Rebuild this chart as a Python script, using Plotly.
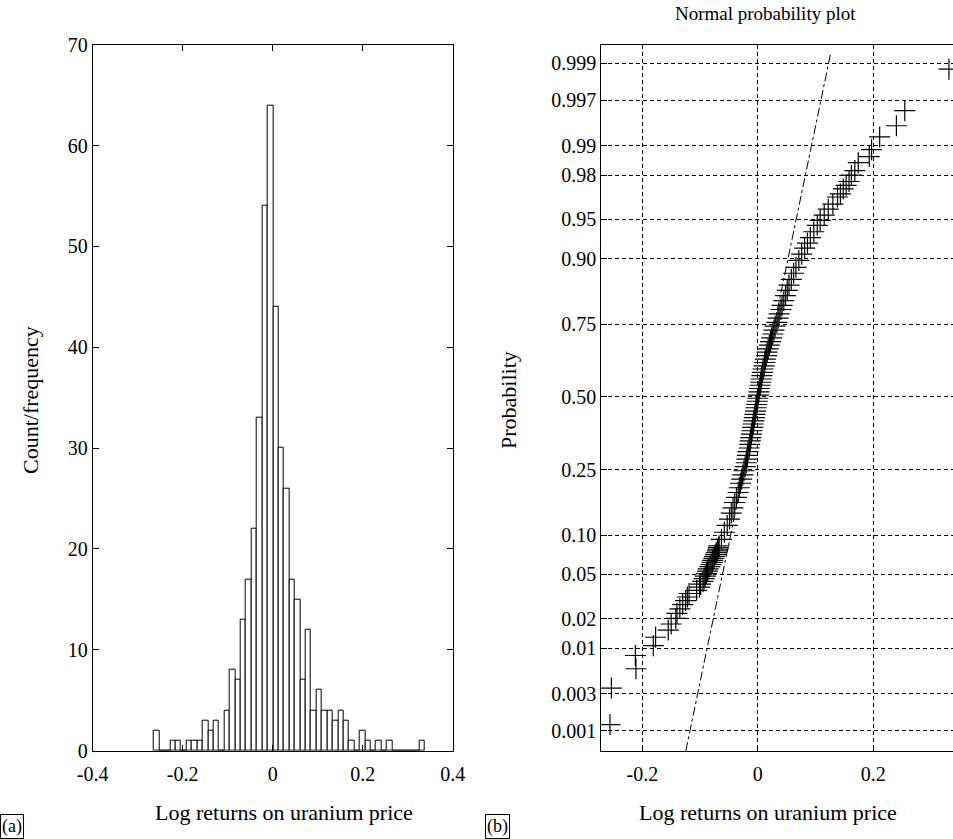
import plotly.graph_objects as go
from statistics import NormalDist
import numpy as np

# ---------------- data: histogram (panel a) ----------------
hist_start = -0.2637
hist_end = 0.3383
hist_counts = [2, 0, 0, 1, 1, 0, 1, 1, 1, 3,
               2, 3, 0, 4, 8, 7, 13, 17, 22, 33,
               54, 64, 44, 30, 26, 17, 15, 7, 12, 4,
               6, 4, 4, 3, 4, 3, 1, 0, 2, 1,
               0, 1, 0, 1, 0, 0, 0, 0, 0, 1]
hist_xticks = [-0.4, -0.2, 0, 0.2, 0.4]
hist_xlabels = ["-0.4", "-0.2", "0", "0.2", "0.4"]

# ---------------- data: normal probability plot (panel b) ----------------
npp_prob = [0.0012, 0.0035, 0.0059, 0.0083, 0.0106, 0.0130, 0.0154, 0.0177, 0.0201, 0.0225,
            0.0248, 0.0272, 0.0296, 0.0319, 0.0343, 0.0366, 0.0390, 0.0414, 0.0437, 0.0461,
            0.0485, 0.0508, 0.0532, 0.0556, 0.0579, 0.0603, 0.0626, 0.0650, 0.0674, 0.0697,
            0.0721, 0.0745, 0.0768, 0.0792, 0.0816,
            0.084, 0.0934, 0.105, 0.117, 0.129, 0.141, 0.152, 0.164, 0.176, 0.188,
            0.200, 0.212, 0.223, 0.235, 0.247, 0.259, 0.271, 0.282, 0.294, 0.306,
            0.318, 0.330, 0.342, 0.353, 0.365, 0.377, 0.389, 0.401, 0.412, 0.424,
            0.436, 0.448, 0.460, 0.472, 0.484, 0.495, 0.507, 0.519, 0.531, 0.543,
            0.554, 0.566, 0.578, 0.590, 0.602, 0.613, 0.625, 0.637, 0.649, 0.661,
            0.672, 0.684, 0.696, 0.708, 0.720, 0.732, 0.744, 0.755, 0.767, 0.779,
            0.791, 0.802, 0.814, 0.826, 0.838, 0.850, 0.862, 0.874, 0.885, 0.897,
            0.907, 0.916, 0.923, 0.930, 0.937, 0.944, 0.949, 0.954, 0.959, 0.963,
            0.968, 0.970, 0.973, 0.975, 0.977, 0.980, 0.982, 0.985, 0.987, 0.989,
            0.992, 0.994, 0.996, 0.9988]
npp_x = [-0.256, -0.2535, -0.211, -0.212, -0.181, -0.177, -0.155, -0.150, -0.142, -0.140,
         -0.135, -0.130, -0.125, -0.122, -0.119, -0.106, -0.101, -0.099, -0.095, -0.093,
         -0.091, -0.089, -0.087, -0.086, -0.083, -0.081, -0.079, -0.078, -0.076, -0.075,
         -0.073, -0.072, -0.070, -0.069, -0.068,
         -0.067, -0.063, -0.058, -0.053, -0.049, -0.046, -0.043, -0.040, -0.037, -0.034,
         -0.032, -0.030, -0.028, -0.026, -0.024, -0.022, -0.020, -0.019, -0.018, -0.017,
         -0.015, -0.014, -0.013, -0.012, -0.011, -0.010, -0.009, -0.008, -0.007, -0.006,
         -0.005, -0.004, -0.003, -0.002, -0.001, 0.000, 0.001, 0.002, 0.003, 0.004,
         0.005, 0.006, 0.007, 0.008, 0.009, 0.011, 0.012, 0.013, 0.015, 0.016,
         0.018, 0.020, 0.022, 0.024, 0.026, 0.028, 0.030, 0.033, 0.035, 0.037,
         0.040, 0.042, 0.045, 0.048, 0.051, 0.054, 0.058, 0.062, 0.066, 0.071,
         0.076, 0.081, 0.086, 0.091, 0.097, 0.103, 0.108, 0.115, 0.122, 0.130,
         0.138, 0.143, 0.148, 0.153, 0.158, 0.162, 0.168, 0.174, 0.193, 0.197,
         0.211, 0.240, 0.2545, 0.331]
fit_x = [-0.1247, 0.126]
fit_prob = [0.00052, 0.99926]
prob_ticks = [0.001, 0.003, 0.01, 0.02, 0.05, 0.10, 0.25, 0.50, 0.75,
              0.90, 0.95, 0.98, 0.99, 0.997, 0.999]
prob_labels = ["0.001", "0.003", "0.01", "0.02", "0.05", "0.10", "0.25", "0.50", "0.75",
               "0.90", "0.95", "0.98", "0.99", "0.997", "0.999"]
npp_xticks = [-0.2, 0, 0.2]
npp_xlabels = ["-0.2", "0", "0.2"]

# ---------------- figure ----------------
W, H = 953, 839
nd = NormalDist()
FONT = "Liberation Serif, Times New Roman, serif"

edges = np.linspace(hist_start, hist_end, len(hist_counts) + 1)
centers = (edges[:-1] + edges[1:]) / 2
bw = edges[1] - edges[0]

fig = go.Figure()
fig.add_trace(go.Bar(x=centers, y=hist_counts, width=bw,
                     marker=dict(color="white", line=dict(color="black", width=1)),
                     xaxis="x", yaxis="y", showlegend=False))

fig.add_trace(go.Scatter(x=fit_x, y=[nd.inv_cdf(p) for p in fit_prob], mode="lines",
                         line=dict(color="black", width=1, dash="dashdot"),
                         xaxis="x2", yaxis="y2", showlegend=False))
fig.add_trace(go.Scatter(x=npp_x, y=[nd.inv_cdf(p) for p in npp_prob], mode="markers",
                         marker=dict(symbol="cross-thin", size=15,
                                     line=dict(color="black", width=1.2)),
                         xaxis="x2", yaxis="y2", showlegend=False))


def px_x(v):
    return v / W


def px_y(v):
    return 1 - v / H


axis_common = dict(showline=True, linecolor="black", linewidth=1, ticks="inside",
                   tickcolor="black", ticklen=6, zeroline=False, automargin=False,
                   tickfont=dict(family=FONT, size=20, color="black"))

fig.update_layout(
    width=W, height=H, margin=dict(l=0, r=0, t=0, b=0, autoexpand=False),
    paper_bgcolor="white", plot_bgcolor="white",
    font=dict(family=FONT, color="black"),
    bargap=0,
    xaxis=dict(domain=[px_x(92.7), px_x(452.7)], range=[-0.4, 0.4],
               tickvals=hist_xticks, ticktext=hist_xlabels, mirror="ticks",
               showgrid=False, anchor="y", ticklabelstandoff=5, **axis_common),
    yaxis=dict(domain=[px_y(750.7), px_y(44.7)], range=[0, 70], dtick=10,
               mirror="ticks", showgrid=False, anchor="x", **axis_common),
    xaxis2=dict(domain=[px_x(601.3), 1.0], range=[-0.271, 0.338],
                tickvals=npp_xticks, ticktext=npp_xlabels, mirror=True,
                showgrid=True, gridcolor="black", gridwidth=1, griddash="4px,3px",
                anchor="y2", ticklabelstandoff=5, **axis_common),
    yaxis2=dict(domain=[px_y(751), px_y(45)],
                range=[-3.28, 3.26],
                tickvals=[nd.inv_cdf(p) for p in prob_ticks], ticktext=prob_labels,
                mirror=False, showgrid=True, gridcolor="black", gridwidth=1,
                griddash="4px,3px", anchor="x2", **axis_common),
)


def label(text, x, y, size=22, angle=0, **kw):
    fig.add_annotation(text=text, textangle=angle, x=px_x(x), y=px_y(y),
                       xref="paper", yref="paper", showarrow=False,
                       xanchor=kw.pop("xanchor", "center"),
                       yanchor=kw.pop("yanchor", "middle"),
                       font=dict(family=FONT, size=size, color="black"), **kw)


label("Count/frequency", 30, 400, angle=-90)
label("Log returns on uranium price", 284, 812)
label("Probability", 508, 400, angle=-90)
label("Log returns on uranium price", 768, 812)
label("Normal probability plot", 765, 14, size=19)
label("(a)", 0, 839, size=18, xanchor="left", yanchor="bottom",
      bordercolor="black", borderwidth=1, borderpad=1)
label("(b)", 485, 839, size=18, xanchor="left", yanchor="bottom",
      bordercolor="black", borderwidth=1, borderpad=1)

fig.write_html("out.html", config={"displayModeBar": False},
               post_script="document.body.style.margin='0px';"
                           "document.body.style.overflow='hidden';")
